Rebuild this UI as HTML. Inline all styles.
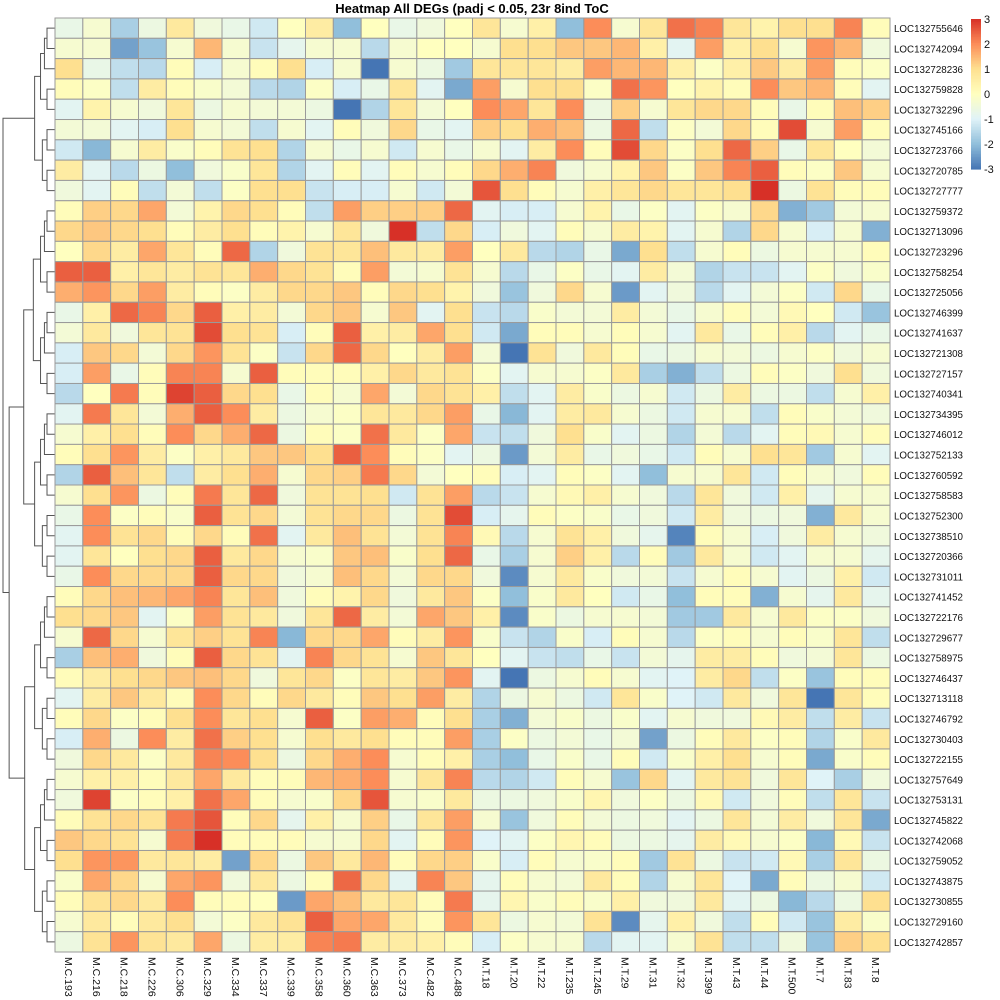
<!DOCTYPE html>
<html><head><meta charset="utf-8"><title>Heatmap All DEGs</title>
<style>
html,body{margin:0;padding:0;background:#fff;}
svg{display:block;font-family:"Liberation Sans",Arial,sans-serif;}
</style></head>
<body>
<svg id="chart" width="1000" height="1000" viewBox="0 0 1000 1000" xmlns="http://www.w3.org/2000/svg">
<text x="472" y="13" text-anchor="middle" font-size="13" font-weight="bold">Heatmap All DEGs (padj &lt; 0.05, 23r 8ind ToC</text>
<g id="dendro"></g>
<g id="cells"></g>
<g id="rowlabels"></g>
<g id="collabels"></g>
<g id="legend"></g>
</svg>
<script>
const columns = ["M.C.193","M.C.216","M.C.218","M.C.226","M.C.306","M.C.329","M.C.334","M.C.337","M.C.339","M.C.358","M.C.360","M.C.363","M.C.373","M.C.482","M.C.488","M.T.18","M.T.20","M.T.22","M.T.235","M.T.245","M.T.29","M.T.31","M.T.32","M.T.399","M.T.43","M.T.44","M.T.500","M.T.7","M.T.83","M.T.8"];
const genes = ["LOC132755646","LOC132742094","LOC132728236","LOC132759828","LOC132732296","LOC132745166","LOC132723766","LOC132720785","LOC132727777","LOC132759372","LOC132713096","LOC132723296","LOC132758254","LOC132725056","LOC132746399","LOC132741637","LOC132721308","LOC132727157","LOC132740341","LOC132734395","LOC132746012","LOC132752133","LOC132760592","LOC132758583","LOC132752300","LOC132738510","LOC132720366","LOC132731011","LOC132741452","LOC132722176","LOC132729677","LOC132758975","LOC132746437","LOC132713118","LOC132746792","LOC132730403","LOC132722155","LOC132757649","LOC132753131","LOC132745822","LOC132742068","LOC132759052","LOC132743875","LOC132730855","LOC132729160","LOC132742857"];
const legendTicks = [3,2,1,0,-1,-2,-3];
const values = [
[-0.7,-0.3,-1.7,-0.6,0.7,-0.5,-0.7,-1.2,0,0.6,-2,0,-0.7,-0.5,0,0.8,-0.3,0.5,-2,2,-0.3,0.8,2.3,2.1,0.8,0.4,1,1,2.1,0.1],
[-0.3,-0.3,-2.4,-1.9,-0.3,1.5,-0.3,-1.3,-0.8,-0.3,-0.3,-1.5,-0.3,0,0,-0.3,1,1,1.3,1.3,1.5,0.5,-0.9,1.8,0.5,1,-0.3,1.9,1.5,-0.5],
[1,-0.7,-1.4,-1.5,0.1,-1.1,-0.3,0.1,1,-1.1,-0.3,-3,-0.3,-0.6,-1.8,0.8,0.8,0.8,0.6,1.8,1.5,1.5,0.5,-0.1,0.5,1.3,0.6,1.8,0.1,-0.1],
[0.1,-0.1,-1.4,0.6,0.1,-0.2,-0.4,-1.5,-1.6,-0.1,-1.1,-0.7,0.8,-0.9,-2.3,1.8,-0.3,1,1,-0.1,2.3,1.9,0,0.4,0.1,2,1.3,1.5,0.1,-0.9],
[-0.9,0.4,-0.3,-0.5,0.8,-0.6,-0.3,-0.4,-0.4,-0.6,-3,-1.6,0.8,-0.4,0,2,1.7,0.8,2,-0.6,1.2,-0.3,0.8,1.1,1.1,0.1,-0.7,0.1,1.4,1.2],
[-0.4,-0.4,-0.9,-1.1,1,-0.3,-0.4,-1.4,-0.3,-0.9,0.1,-0.5,1.1,-0.7,-0.9,1.2,1,1.6,1.4,-0.6,2.4,-1.4,-0.1,-0.4,1.1,0.1,2.7,-0.3,1.8,0.1],
[-1.2,-2.1,-0.3,0.6,-0.2,0.1,0.9,1,-1.6,-0.3,-0.7,-0.3,-1.2,-0.3,-0.7,-0.3,-0.9,0.6,2,0.1,2.7,1.1,-0.1,1,2.4,1.2,-0.7,0.8,0,-0.4],
[0.6,-0.9,-1.5,-0.6,-2,-0.5,-0.2,0.8,-1.6,-0.9,0.1,-0.9,0.1,-0.3,0.1,1.1,1.6,2.1,-0.5,-0.3,0.4,1.3,-0.1,1.3,2.1,2.5,0.1,-0.1,1.3,-0.3],
[-0.5,-0.9,0.1,-1.4,-0.4,-1.4,-0.1,1,1,-1.3,-1.1,-1.1,-0.3,-1.2,-0.4,2.6,1,0.1,-0.3,0.5,0.8,1.1,0.8,0.8,1,3,-0.6,0.9,0.1,0.1],
[0.1,1.2,1.1,1.7,-0.4,0.4,1.1,1,0.1,-1.4,1.8,1.2,1.2,1.2,2.4,-0.9,-1.1,-1.1,-0.3,0.4,-0.7,-0.1,-0.9,-0.1,-0.3,1.1,-2.2,-1.8,-0.4,-0.3],
[1.1,1.3,1.1,1,0.1,0.6,1,0.1,0.4,-0.3,0.8,-0.5,3,-1.4,1.1,-1.1,-0.5,-0.9,0.1,-0.3,0.6,0.4,-0.9,-0.3,-1.6,1.1,-0.3,-1.1,-0.3,-2.2],
[0,1.1,0.6,1.7,0.8,0.1,2.4,-1.6,-0.5,0.9,0.8,1.4,0.7,0.6,1.8,0,0.7,-1.5,-1.6,-0.7,-2.3,1,-1.4,-0.3,0.1,-0.6,-0.3,-0.3,-0.3,0.1],
[2.5,2.5,0.5,0.8,0.6,0.9,0.8,1.6,1.1,0.9,0.1,1.8,-0.4,-0.3,0.9,-0.3,-1.5,-0.7,-0.1,-0.7,-0.9,0.6,-0.4,-1.6,-1.3,-1.3,-0.9,-0.1,-0.5,-0.2],
[1.6,1.9,1.1,1.8,0.6,0.1,-0.1,0.6,1.1,1.1,1.3,0.1,1.1,1,0.4,-0.5,-1.9,-0.5,1.1,-0.3,-2.5,-0.9,-0.5,-1.5,-0.9,-0.4,-0.1,-1.2,1.1,-0.7],
[-0.7,0.5,2.4,2.1,1.1,2.5,0.5,0.6,-0.4,1.1,1.3,-0.3,1.3,-0.9,1,-1.3,-1.5,-0.2,-0.4,-0.4,0.6,-0.4,-0.7,-0.3,0.1,-0.4,0.2,0,-1.2,-1.9],
[-0.4,0.7,-0.5,0.8,0.9,2.7,1,0.9,-1.1,0.1,2.5,0.5,0.6,1.7,1,-1.2,-2.3,0.1,0.1,-0.3,0.1,-0.3,-0.9,0.7,-0.7,0.1,0.5,-1.5,-0.9,-0.7],
[-1.1,1.3,1.1,-0.4,1.1,1.9,0.9,-0.1,-1.3,1.1,2.4,1.1,0,0.6,1.8,-0.4,-3,0.9,-0.5,0.7,0.1,-0.7,-0.6,-0.3,-0.4,-0.6,-0.3,-0.1,-0.5,-0.3],
[-1.1,1.8,-0.7,0.1,2.1,2.1,-0.3,2.5,0.1,0.1,0.1,0.5,1.1,0.7,0.9,-0.1,-0.9,-0.3,-0.3,-0.1,0.7,-1.7,-2.2,-1.4,-0.6,0.1,-0.1,-0.5,1,-0.5],
[-1.5,0,2.2,0.1,2.8,2.5,1.1,1,-0.7,0.1,-0.3,1.7,-0.4,1.1,0.9,0.5,-1.4,-0.9,0.6,-0.2,-0.6,-0.3,-1.2,-0.6,0.6,-0.6,-0.6,-1.4,-0.3,0.5],
[-0.9,2.2,0.8,-0.4,1.6,2.5,2,0.6,-0.6,-0.3,-0.1,0.8,0.7,1.1,1.8,-0.7,-2.1,-0.9,0.6,0.7,-0.3,-0.6,-1.2,-0.3,-0.3,-1.4,0.1,-0.2,-0.4,-0.5],
[-0.3,0.5,1,0.1,2,1.1,1.6,2.4,-0.6,0.1,-0.1,2.3,0.7,-0.1,1.7,-1.3,-1.4,-0.5,1,-0.2,-0.9,-0.6,-1.6,-0.4,-1.5,-0.9,0.1,0.2,-0.3,0.1],
[0.1,1,1.9,0.6,-0.1,0.5,0.7,1.3,1.3,1,2.5,2,0.1,-0.1,-0.9,-0.6,-2.5,-0.4,0.6,-0.7,-0.5,-0.7,-1.2,0.1,-0.3,1,0.8,-1.8,-0.3,-0.9],
[-1.6,2.5,1.4,0.8,-1.4,0.6,1,1.6,-0.3,1.1,1.2,2.2,1.1,-0.4,0,0.1,-1.1,-0.9,0.1,-0.1,-0.9,-2,-0.3,-0.3,0.8,-1.2,0.1,-0.3,-0.5,0.1],
[-0.3,1,1.9,-0.6,0.1,2.2,0.8,2.4,-0.5,0.9,0.9,1,-1.2,0.9,1.8,-1.5,-1.3,-0.3,0.2,0.5,-0.3,-0.5,-1.5,0.8,-0.5,-1.2,0.5,-0.8,-0.3,-0.3],
[-0.7,2,-0.1,0.1,-0.2,2.5,0.9,1.1,-0.4,0.9,1.1,1.1,-0.6,0.9,2.7,-1.1,-0.8,0.1,-0.1,-0.2,-0.7,-0.5,-1.2,0.6,-0.5,-0.6,-0.5,-2.2,0.7,-0.3],
[-0.9,2,0.9,1.1,0.1,1.1,0.1,2.3,-0.9,0.7,1.4,0.9,-0.4,0.9,2.1,0.2,-1.5,-0.3,0.9,0.5,-0.5,-0.8,-2.8,0.1,-0.3,-1.1,-0.5,0.6,-0.3,-0.5],
[-0.9,0.8,0,1,1.1,2.5,0.7,1.1,-0.3,-0.2,1.3,1.4,-0.2,1,2.4,-0.7,-1.7,-0.3,1.2,0.5,-1.5,0.1,-1.8,0.7,-0.3,-1.2,-0.9,-0.3,-0.3,-0.8],
[-0.7,2,1.1,1.1,1.1,2.5,1.1,1.1,-0.5,-0.3,1.4,1.1,-0.4,1.1,1.1,-0.5,-2.7,-0.3,0.7,-0.2,-0.5,-0.4,-1.3,-0.3,0.1,-0.3,-0.9,-0.6,0.5,-1.2],
[0.1,1.1,1.4,1.5,1.7,2.1,0.8,1.4,-0.5,0.1,0.4,1.1,-0.5,0.7,1.3,-0.1,-2,-0.2,0.7,0,-1.2,-0.7,-2,0.1,0.1,-2.2,-0.3,-0.8,0.7,-0.8],
[1,1.1,1.3,-0.9,-0.1,1.8,0.9,0.7,-0.5,0.8,2.4,0.6,-0.4,1.7,1.3,0.5,-2.7,-0.2,-0.6,-0.3,-0.3,-0.4,-1.8,-1.8,0.7,-0.3,0.7,-0.1,-0.1,-0.5],
[-0.3,2.4,1.1,-0.3,0.8,1.2,0.9,2.1,-2.1,1.1,1.1,1.7,0.1,0.6,1.9,-0.2,-1.3,-1.6,-0.2,-1.1,0.1,-0.3,-1.5,-0.1,0.1,-0.3,0.1,-0.2,0.8,-1.4],
[-1.7,1.4,1.6,-0.5,0.1,2.5,1.1,0.9,-0.9,2.1,1.1,0.9,-0.3,1.3,0.8,0,-0.9,-1.3,-1.4,-0.7,-1.3,-0.4,-0.8,0.6,0.6,0.1,-0.5,-0.4,0.8,-0.6],
[0.1,0.6,1,1.1,1.3,1.4,1.1,-0.5,0.8,1.1,-0.1,0.8,0.6,1.3,1.9,-0.9,-3,-0.6,-0.3,0.1,-0.3,-0.9,-1,0.6,1.1,-1.4,-0.1,-1.9,0.1,0.1],
[-0.9,0.6,1.3,0.7,0.1,2,1.1,0.1,1.1,0.7,0.1,1.3,1,1.8,0.6,-1.6,-0.6,-0.3,-0.6,-1.2,0.8,-0.2,-1,-1.2,0.7,-0.5,0.8,-3,0.8,0.1],
[0.1,1.1,-0.1,0.1,1,2,0.8,1,-0.3,2.5,-0.1,1.8,1.6,0.1,1,-1.7,-2.2,-0.4,-0.2,-0.6,-0.2,-0.9,-0.3,-0.5,-0.5,0.2,0.6,-1.4,0.6,-1.3],
[-1.1,1.6,-0.6,2,0.6,2.3,1.2,1,-0.3,1,0.7,1,0.1,0.1,1.8,-1.7,-0.1,-0.6,-0.4,-0.7,-0.4,-2.4,-0.6,0.1,0.7,-0.1,0.1,-1.6,-0.2,0.7],
[-0.5,1.1,0.7,-0.1,0.7,2.1,2,1,-0.6,1.1,1.6,2,-0.3,0.1,0.5,-1.7,-2,-0.7,-0.2,-0.7,0.1,-1.2,-0.2,0.5,1,-0.3,0.1,-2.3,-0.2,0.1],
[-0.3,0.5,0.5,0.1,0.7,1.7,0.7,0.1,0.1,1.5,1.6,2,-0.3,0.8,2.1,-1.5,-1.6,-1.2,0.1,-0.3,-1.9,1.1,-0.9,0.7,0.9,-0.5,0.8,-1,-1.7,-0.5],
[-0.5,2.8,-0.1,0.1,0.5,2.3,1.7,0.1,-0.3,-0.2,1.1,2.6,-0.3,-0.2,0.7,-0.6,-0.6,-0.5,-0.2,0.3,-0.5,-0.1,-0.6,0.2,-1.2,-0.5,0.1,-1.4,0.8,-1.3],
[0.1,0.9,1.1,0.9,2.2,2.6,0.1,1.1,-0.8,0.5,-0.3,1.2,-0.7,0.8,1.8,-0.3,-1.9,-0.5,0.1,-0.4,-0.6,-0.5,-0.9,-0.6,0.8,-0.4,0.6,-0.5,0.8,-2.3],
[1.3,1.1,0.9,-0.3,2.2,3,0.1,0.1,0.1,-0.3,-0.3,1.1,-0.9,0.1,1.9,-1,-0.9,-0.1,0.3,0.1,-0.6,-0.6,-0.8,0.6,0.2,-0.3,-0.1,-2.1,0.2,-1.3],
[1,1.9,1.9,0.7,0.8,0.6,-2.4,1.1,-0.6,1.3,0.7,1.5,0.1,1.1,1.2,-0.2,-1.1,0.1,-0.3,-0.2,0.1,-1.8,0.9,-0.6,-1.3,-1.2,0.2,-1.7,0.8,-0.6],
[-0.2,1.7,1.1,-0.3,1.7,1.9,-0.5,0.7,-0.6,0.1,2.4,1.1,-0.9,2.1,1.3,-0.8,0.1,-0.3,-0.4,0.7,0.1,-1.6,-0.3,0.8,-1,-2.3,0.1,-0.6,-0.3,-1.2],
[0.1,0.9,1.1,0.7,2,0.1,0.1,0,-2.5,1.7,1.4,0.7,0.8,0.1,2.2,-0.8,0.3,-0.2,0.1,-0.2,0.5,-0.5,-0.5,0.7,-0.9,-0.6,-2.1,-1.5,-0.6,1],
[-0.3,0.7,0.1,0.7,1,-0.4,-0.1,0.7,0.9,2.5,1.7,1.7,0.7,0.1,1.9,0.8,-0.6,-0.3,-0.4,0.9,-2.7,-0.8,0.5,-0.5,-1.4,0.1,-1.2,-1.9,0.6,-0.2],
[-0.6,0.9,1.9,0.9,0.7,1.7,-0.6,0.6,0.6,2.1,2.2,0.6,0.6,0.5,0.1,-1.1,-0.1,-0.3,-0.3,-1.5,-0.9,-0.9,-0.3,0.9,-1.4,-1.4,-0.5,-1.9,1.2,1]
];

const NS = "http://www.w3.org/2000/svg";
const X0 = 55, X1 = 890, Y0 = 18, Y1 = 952;
const cw = (X1 - X0) / columns.length;
const ch = (Y1 - Y0) / genes.length;
const xPos = i => X0 + i * cw;
const yPos = j => Y0 + j * ch;
const palette = ["#4575B4","#91BFDB","#E0F3F8","#FFFFBF","#FEE090","#FC8D59","#D73027"];
function hex2rgb(h){return [parseInt(h.slice(1,3),16),parseInt(h.slice(3,5),16),parseInt(h.slice(5,7),16)];}
function colorFor(v){
  let t = (Math.max(-3, Math.min(3, v)) + 3) / 6 * (palette.length - 1);
  let i = Math.min(palette.length - 2, Math.floor(t)), f = t - i;
  const a = hex2rgb(palette[i]), b = hex2rgb(palette[i+1]);
  return "rgb(" + a.map((c,k)=>Math.round(c + (b[k]-c)*f)).join(",") + ")";
}
function mk(tag, attrs, parent){
  const e = document.createElementNS(NS, tag);
  for (const k in attrs) e.setAttribute(k, attrs[k]);
  parent.appendChild(e);
  return e;
}

const cellsG = document.getElementById("cells");
values.forEach((row, j) => {
  row.forEach((v, i) => {
    const r = mk("rect", {x: xPos(i), y: yPos(j), width: cw, height: ch, fill: colorFor(v), stroke: "#9a9a9a", "stroke-width": 1}, cellsG);
    
    
  });
});

const rowG = document.getElementById("rowlabels");
genes.forEach((g, j) => {
  const t = mk("text", {x: X1 + 4, y: yPos(j) + ch/2 + 4, "font-size": 10.5, fill: "#111", textLength: 69, lengthAdjust: "spacingAndGlyphs"}, rowG);
  t.textContent = g;
  
  
});

const colG = document.getElementById("collabels");
columns.forEach((c, i) => {
  const cx = xPos(i) + cw/2 - 4;
  const t = mk("text", {x: cx, y: Y1 + 5, "font-size": 10.5, fill: "#111", transform: "rotate(90 " + cx + " " + (Y1 + 5) + ")"}, colG);
  t.textContent = c;
  
  
});

// legend
const legG = document.getElementById("legend");
const LX = 971, LW = 10, LT = 19, LB = 169;
for (let k = 0; k < 100; k++) {
  const v0 = 3 - 6 * k / 100;
  const r = mk("rect", {x: LX, y: LT + (LB-LT)*k/100, width: LW, height: (LB-LT)/100 + 0.6, fill: colorFor(v0 - 0.03)}, legG);
  
  
}
legendTicks.forEach(v => {
  const y = LT + (3 - v) / 6 * (LB - LT);
  const t = mk("text", {x: LX + LW + 3, y: y + 4, "font-size": 11, fill: "#111"}, legG);
  t.textContent = String(v);
  
  
});

// dendrogram (approximate structure)
const dG = document.getElementById("dendro");
function build(a, b){
  if (a === b) return {x: X0, y: yPos(a) + ch/2, n: 1};
  let m;
  if (a === 0 && b === genes.length - 1) m = 8;
  else m = Math.floor((a + b) / 2);
  const L = build(a, m), R = build(m + 1, b);
  const n = b - a + 1;
  const x = X0 - 3 - 49 * Math.pow((n - 1) / (genes.length - 1), 0.6);
  mk("path", {d: "M" + L.x + "," + L.y + "H" + x + "V" + R.y + "H" + R.x, fill: "none", stroke: "#555", "stroke-width": 1}, dG);
  return {x: x, y: (L.y + R.y) / 2, n: n};
}
build(0, genes.length - 1);
</script>
</body></html>
